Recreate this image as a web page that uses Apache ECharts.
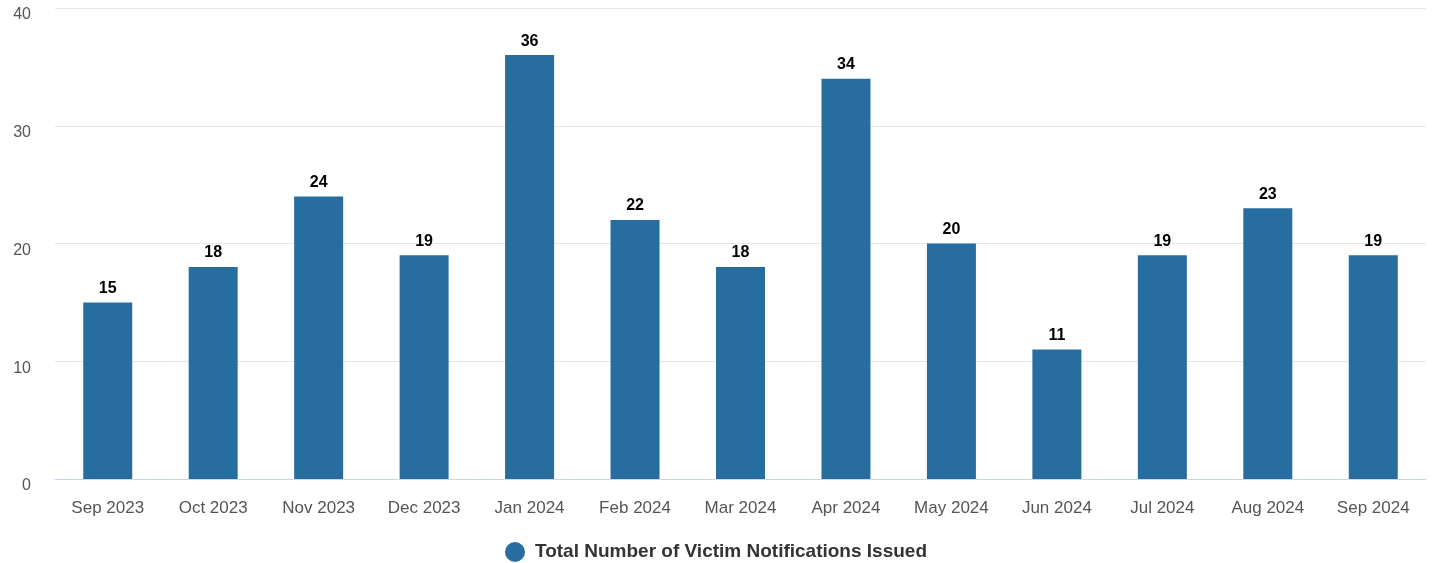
<!DOCTYPE html>
<html>
<head>
<meta charset="utf-8">
<script src="https://cdn.jsdelivr.net/npm/echarts@6/dist/echarts.min.js"></script>
<style>
html,body{margin:0;padding:0;background:#fff;}
#chart{width:1432px;height:563px;}
</style>
</head>
<body>
<div id="chart"></div>
<script>
const categories = ["Sep 2023","Oct 2023","Nov 2023","Dec 2023","Jan 2024","Feb 2024","Mar 2024","Apr 2024","May 2024","Jun 2024","Jul 2024","Aug 2024","Sep 2024"];
const notifications = [15,18,24,19,36,22,18,34,20,11,19,23,19];
const seriesName = "Total Number of Victim Notifications Issued";
const yTicks = {min:0, max:40, interval:10};

const chart = echarts.init(document.getElementById('chart'));
chart.setOption({
  animation:false,
  textStyle:{fontFamily:'"Liberation Sans", Arial, sans-serif'},
  grid:{left:55, right:6, top:8, bottom:84, containLabel:false},
  legend:{
    top:537, left:'center',
    icon:'circle', itemWidth:20, itemHeight:20, itemGap:10,
    textStyle:{fontSize:19, fontWeight:'bold', color:'#333', padding:[0,0,0,5]},
    data:[seriesName]
  },
  xAxis:{
    type:'category', data:categories,
    axisLine:{lineStyle:{color:'#ccd6eb', width:1}},
    axisTick:{show:false},
    axisLabel:{color:'#555', fontSize:17, margin:21}
  },
  yAxis:{
    type:'value', min:yTicks.min, max:yTicks.max, interval:yTicks.interval,
    axisLine:{show:false}, axisTick:{show:false},
    splitLine:{lineStyle:{color:'#e6e6e6', width:1}},
    axisLabel:{color:'#555', fontSize:16, margin:24, verticalAlign:'top', lineHeight:14}
  },
  series:[{
    name:seriesName, type:'bar', data:notifications,
    barWidth:49,
    itemStyle:{color:'#286da0'},
    label:{show:true, position:'top', distance:6, fontSize:16, fontWeight:'bold', color:'#000'}
  }]
});
</script>
</body>
</html>
